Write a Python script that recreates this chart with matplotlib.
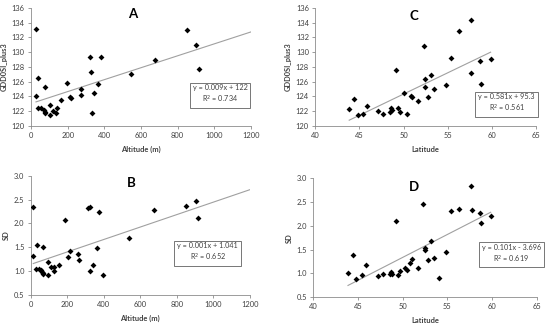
import numpy as np
import matplotlib
matplotlib.use("Agg")
import matplotlib.pyplot as plt

# Panel A: GDD0SI_plus3 vs altitude
alt_a = [27, 38, 76, 27, 198, 320, 384, 329, 367, 271, 275, 215, 220, 345, 335, 165,
         38, 56, 70, 76, 78, 105, 104, 120, 140, 137, 544, 678, 849, 902, 915]
gdd_a = [133.1, 126.55, 125.3, 124.07, 125.87, 129.36, 129.3, 127.3, 125.7, 125.06, 124.16,
         123.97, 123.84, 124.5, 121.76, 123.5, 122.5, 122.5, 122.2, 121.9, 121.7, 122.8,
         121.5, 122.0, 122.5, 121.8, 127.05, 128.9, 133.06, 130.94, 127.7]

# Panel B: SD vs altitude
alt_b = [14, 33, 66, 14, 189, 312, 323, 375, 213, 202, 261, 266, 361, 339, 326, 394, 157, 95,
         29, 44, 55, 60, 65, 67, 93, 113, 127, 127, 538, 676, 848, 903, 914]
sd_b = [2.35, 1.54, 1.51, 1.32, 2.065, 2.317, 2.35, 2.233, 1.422, 1.303, 1.353, 1.24, 1.479,
        1.129, 0.996, 0.926, 1.135, 1.19, 1.04, 1.05, 1.02, 0.99, 0.97, 0.94, 0.92, 1.08,
        1.087, 1.0, 1.695, 2.29, 2.36, 2.48, 2.107]

# Panel C: GDD0SI_plus3 vs latitude
lat_c = [43.85, 44.34, 44.8, 45.4, 45.85, 47.16, 47.7, 48.48, 48.56, 48.74, 49.16, 49.39, 49.6,
         50.33, 50.1, 50.82, 50.9, 51.6, 52.3, 52.4, 52.44, 52.8, 53.08, 53.4, 54.8, 55.35,
         56.3, 57.65, 57.65, 58.67, 58.74, 59.84]
gdd_c = [122.35, 123.7, 121.5, 121.67, 122.7, 122.1, 121.67, 121.9, 122.44, 122.17, 127.55,
         122.44, 121.94, 121.67, 124.43, 124.07, 123.98, 123.43, 130.8, 126.4, 125.24, 123.93,
         126.92, 124.97, 125.6, 129.22, 132.88, 134.37, 127.23, 128.77, 125.75, 129.13]

# Panel D: SD vs latitude
lat_d = [43.88, 44.41, 44.81, 45.45, 45.9, 47.2, 47.8, 48.58, 48.66, 48.84, 49.22, 49.5, 49.7,
         50.26, 50.5, 50.82, 51.0, 51.68, 52.31, 52.47, 52.5, 52.83, 53.14, 53.5, 54.85, 54.07,
         55.38, 56.34, 57.65, 57.72, 58.7, 58.8, 59.85]
sd_d = [1.012, 1.39, 0.885, 0.963, 1.167, 0.942, 0.978, 0.978, 1.02, 0.984, 2.094, 0.963, 1.05,
        1.104, 1.075, 1.216, 1.3, 1.11, 2.47, 1.53, 1.497, 1.28, 1.68, 1.33, 1.46, 0.9, 2.305,
        2.347, 2.838, 2.34, 2.28, 2.05, 2.21]

eq_a = "y = 0.009x + 122\nR$^2$ = 0.734"
eq_b = "y = 0.001x + 1.041\nR$^2$ = 0.652"
eq_c = "y = 0.581x + 95.3\nR$^2$ = 0.561"
eq_d = "y = 0.101x - 3.696\nR$^2$ = 0.619"

FONT = "Lato"
plt.rcParams['font.family'] = [FONT, 'DejaVu Sans']

fig = plt.figure(figsize=(5.5, 3.29), dpi=100)
TXT = "#404040"
SP = "#8c8c8c"

def panel(rect, x, y, xlim, xticks, ylim, yticks, yfmt, xlabel, ylabel, letter, lpos,
          eq, eqpos, line_to=None):
    ax = fig.add_axes(rect)
    ax.scatter(x, y, marker='D', s=9, color='black', zorder=3, linewidths=0)
    k, b = np.polyfit(x, y, 1)
    x0 = min(x)
    x1 = line_to if line_to is not None else max(x)
    xs = np.array([x0, x1])
    ax.plot(xs, k * xs + b, color="#a0a0a0", lw=0.8, zorder=2)
    ax.set_xlim(*xlim)
    ax.set_ylim(*ylim)
    ax.set_xticks(xticks)
    ax.set_yticks(yticks)
    ax.set_yticklabels([yfmt.format(v) for v in yticks])
    for s in ['top', 'right']:
        ax.spines[s].set_visible(False)
    for s in ['left', 'bottom']:
        ax.spines[s].set_color(SP)
        ax.spines[s].set_linewidth(0.6)
    ax.tick_params(axis='both', direction='out', length=2.5, width=0.6, color=SP,
                   labelsize=5.4, labelcolor=TXT, pad=2)
    ax.set_xlabel(xlabel, fontsize=5.4, fontweight='bold', color=TXT, labelpad=5)
    ax.set_ylabel(ylabel, fontsize=5.4, fontweight='bold', color=TXT, labelpad=3)
    ax.text(lpos[0], lpos[1], letter, transform=ax.transAxes, fontsize=9.5,
            fontweight='bold', ha='center', va='center', color='black')
    ax.text(eqpos[0], eqpos[1], eq, transform=ax.transAxes, fontsize=5.2, ha='center',
            va='center', color=TXT, linespacing=1.3,
            bbox=dict(boxstyle='square,pad=0.4', fc='white', ec='#606060', lw=0.6))
    return ax

panel([0.0564, 0.617, 0.400, 0.359], alt_a, gdd_a, (0, 1200), range(0, 1201, 200),
      (120, 136), list(range(120, 137, 2)), "{:d}", "Altitude (m)", "GDD0SI_plus3", "A",
      (0.462, 0.945), eq_a, (0.859, 0.263), line_to=1200)
panel([0.0558, 0.1033, 0.3987, 0.3627], alt_b, sd_b, (0, 1200), range(0, 1201, 200),
      (0.5, 3.0), [0.5, 1.0, 1.5, 2.0, 2.5, 3.0], "{:.1f}", "Altitude (m)", "SD", "B",
      (0.457, 0.935), eq_b, (0.807, 0.356), line_to=1200)
panel([0.573, 0.617, 0.402, 0.359], lat_c, gdd_c, (40, 65), range(40, 66, 5),
      (120, 136), list(range(120, 137, 2)), "{:d}", "Latitude", "GDD0SI_plus3", "C",
      (0.448, 0.935), eq_c, (0.866, 0.19))
panel([0.5697, 0.097, 0.4061, 0.3608], lat_d, sd_d, (40, 65), range(40, 66, 5),
      (0.5, 3.0), [0.5, 1.0, 1.5, 2.0, 2.5, 3.0], "{:.1f}", "Latitude", "SD", "D",
      (0.45, 0.93), eq_d, (0.887, 0.362))

fig.savefig("out.png", dpi=100)
